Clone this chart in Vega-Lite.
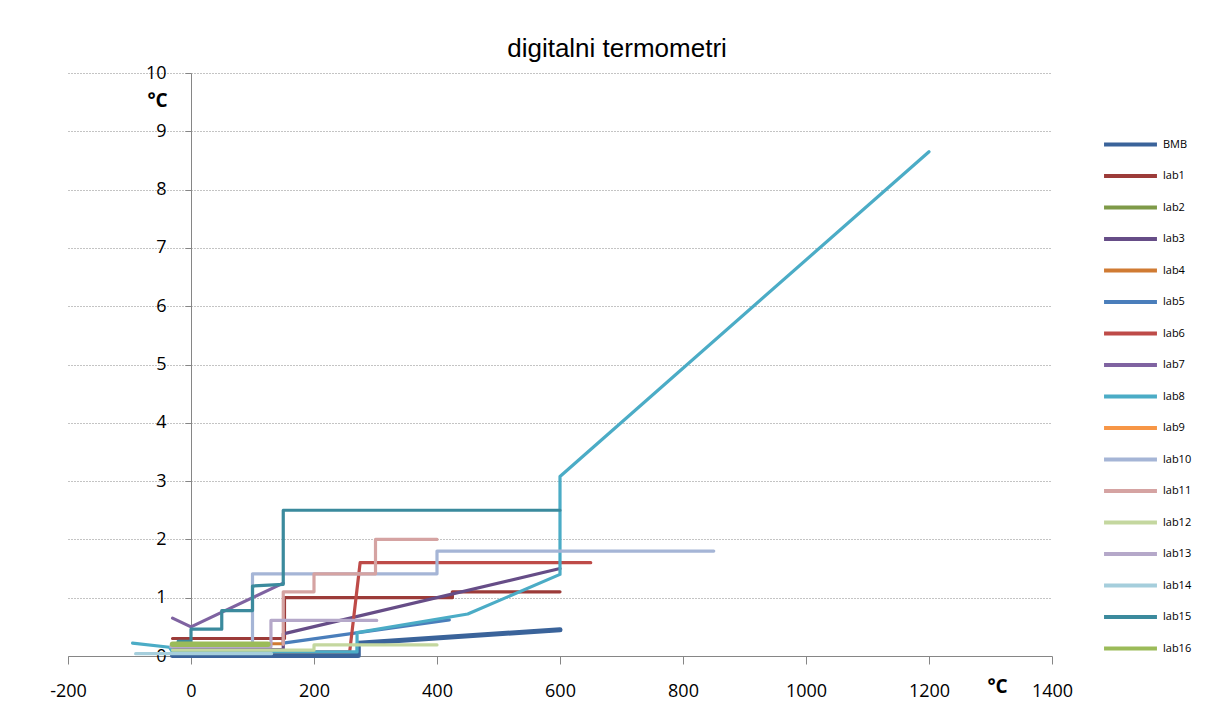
{
  "$schema": "https://vega.github.io/schema/vega-lite/v6.json",
  "autosize": "none",
  "padding": {"left": 68, "top": 73, "right": 156, "bottom": 52},
  "width": 984,
  "height": 583,
  "background": "white",
  "title": {
    "text": "digitalni termometri",
    "font": "Liberation Sans",
    "fontSize": 26,
    "fontWeight": "normal",
    "color": "#000000",
    "anchor": "middle",
    "baseline": "alphabetic",
    "offset": 16,
    "dx": 57,
    "dy": 35
  },
  "config": {
    "view": {"stroke": null},
    "axis": {"labelColor": "#000000", "titleColor": "#000000"}
  },
  "data": {
    "values": [
      {"s": "BMB", "x": -30, "y": 0.01, "i": 0},
      {"s": "BMB", "x": 272, "y": 0.01, "i": 1},
      {"s": "BMB", "x": 272, "y": 0.22, "i": 2},
      {"s": "BMB", "x": 600, "y": 0.45, "i": 3},
      {"s": "lab1", "x": -30, "y": 0.3, "i": 0},
      {"s": "lab1", "x": 152, "y": 0.3, "i": 1},
      {"s": "lab1", "x": 152, "y": 1.0, "i": 2},
      {"s": "lab1", "x": 425, "y": 1.0, "i": 3},
      {"s": "lab1", "x": 425, "y": 1.1, "i": 4},
      {"s": "lab1", "x": 600, "y": 1.1, "i": 5},
      {"s": "lab2", "x": -30, "y": 0.2, "i": 0},
      {"s": "lab2", "x": 120, "y": 0.2, "i": 1},
      {"s": "lab3", "x": -30, "y": 0.11, "i": 0},
      {"s": "lab3", "x": 150, "y": 0.11, "i": 1},
      {"s": "lab3", "x": 150, "y": 0.38, "i": 2},
      {"s": "lab3", "x": 600, "y": 1.5, "i": 3},
      {"s": "lab4", "x": -30, "y": 0.21, "i": 0},
      {"s": "lab4", "x": 150, "y": 0.21, "i": 1},
      {"s": "lab5", "x": 150, "y": 0.22, "i": 0},
      {"s": "lab5", "x": 420, "y": 0.62, "i": 1},
      {"s": "lab6", "x": -30, "y": 0.07, "i": 0},
      {"s": "lab6", "x": 258, "y": 0.07, "i": 1},
      {"s": "lab6", "x": 275, "y": 1.6, "i": 2},
      {"s": "lab6", "x": 650, "y": 1.6, "i": 3},
      {"s": "lab7", "x": -30, "y": 0.65, "i": 0},
      {"s": "lab7", "x": 0, "y": 0.5, "i": 1},
      {"s": "lab7", "x": 150, "y": 1.25, "i": 2},
      {"s": "lab8", "x": -95, "y": 0.22, "i": 0},
      {"s": "lab8", "x": -35, "y": 0.15, "i": 1},
      {"s": "lab8", "x": -30, "y": 0.07, "i": 2},
      {"s": "lab8", "x": 270, "y": 0.07, "i": 3},
      {"s": "lab8", "x": 270, "y": 0.4, "i": 4},
      {"s": "lab8", "x": 450, "y": 0.72, "i": 5},
      {"s": "lab8", "x": 600, "y": 1.4, "i": 6},
      {"s": "lab8", "x": 600, "y": 3.08, "i": 7},
      {"s": "lab8", "x": 1200, "y": 8.65, "i": 8},
      {"s": "lab9", "x": -30, "y": 0.2, "i": 0},
      {"s": "lab9", "x": 110, "y": 0.2, "i": 1},
      {"s": "lab10", "x": 100, "y": 0.22, "i": 0},
      {"s": "lab10", "x": 100, "y": 1.41, "i": 1},
      {"s": "lab10", "x": 400, "y": 1.41, "i": 2},
      {"s": "lab10", "x": 400, "y": 1.8, "i": 3},
      {"s": "lab10", "x": 850, "y": 1.8, "i": 4},
      {"s": "lab11", "x": 150, "y": 0.2, "i": 0},
      {"s": "lab11", "x": 150, "y": 1.1, "i": 1},
      {"s": "lab11", "x": 200, "y": 1.1, "i": 2},
      {"s": "lab11", "x": 200, "y": 1.41, "i": 3},
      {"s": "lab11", "x": 300, "y": 1.41, "i": 4},
      {"s": "lab11", "x": 300, "y": 2.0, "i": 5},
      {"s": "lab11", "x": 400, "y": 2.0, "i": 6},
      {"s": "lab12", "x": -30, "y": 0.1, "i": 0},
      {"s": "lab12", "x": 200, "y": 0.1, "i": 1},
      {"s": "lab12", "x": 200, "y": 0.19, "i": 2},
      {"s": "lab12", "x": 400, "y": 0.19, "i": 3},
      {"s": "lab13", "x": -33, "y": 0.16, "i": 0},
      {"s": "lab13", "x": 130, "y": 0.16, "i": 1},
      {"s": "lab13", "x": 130, "y": 0.61, "i": 2},
      {"s": "lab13", "x": 302, "y": 0.61, "i": 3},
      {"s": "lab14", "x": -90, "y": 0.04, "i": 0},
      {"s": "lab14", "x": 131, "y": 0.04, "i": 1},
      {"s": "lab15", "x": -21, "y": 0.25, "i": 0},
      {"s": "lab15", "x": 0, "y": 0.25, "i": 1},
      {"s": "lab15", "x": 0, "y": 0.46, "i": 2},
      {"s": "lab15", "x": 50, "y": 0.46, "i": 3},
      {"s": "lab15", "x": 50, "y": 0.78, "i": 4},
      {"s": "lab15", "x": 100, "y": 0.78, "i": 5},
      {"s": "lab15", "x": 100, "y": 1.2, "i": 6},
      {"s": "lab15", "x": 150, "y": 1.23, "i": 7},
      {"s": "lab15", "x": 150, "y": 2.5, "i": 8},
      {"s": "lab15", "x": 600, "y": 2.5, "i": 9},
      {"s": "lab16", "x": -30, "y": 0.2, "i": 0},
      {"s": "lab16", "x": 125, "y": 0.2, "i": 1}
    ]
  },
  "mark": {"type": "line", "strokeCap": "round", "strokeJoin": "round"},
  "encoding": {
    "x": {
      "field": "x",
      "type": "quantitative",
      "scale": {"domain": [-200, 1400], "nice": false, "zero": false},
      "axis": {
        "values": [-200, 0, 200, 400, 600, 800, 1000, 1200, 1400],
        "labelExpr": "'' + datum.value",
        "labelFlush": false,
        "labelOverlap": false,
        "grid": false,
        "domainColor": "#868686",
        "tickColor": "#868686",
        "tickSize": 8,
        "labelFont": "Open Sans",
        "labelFontSize": 18,
        "labelPadding": 18,
        "title": "°C",
        "titleFont": "Open Sans",
        "titleFontSize": 19,
        "titleFontWeight": "bold",
        "titleX": 929,
        "titleY": 30,
        "titleAlign": "center",
        "titleBaseline": "middle"
      }
    },
    "y": {
      "field": "y",
      "type": "quantitative",
      "scale": {"domain": [0, 10], "nice": false},
      "axis": {
        "values": [0, 1, 2, 3, 4, 5, 6, 7, 8, 9, 10],
        "offset": -123,
        "grid": true,
        "gridColor": "#888888",
        "gridDash": [1, 2],
        "gridWidth": 1,
        "domainColor": "#868686",
        "tickColor": "#868686",
        "tickSize": 6,
        "labelFont": "Open Sans",
        "labelFontSize": 18,
        "labelPadding": 19,
        "title": "°C",
        "titleFont": "Open Sans",
        "titleFontSize": 19,
        "titleFontWeight": "bold",
        "titleAngle": 0,
        "titleX": -34,
        "titleY": 27,
        "titleAlign": "center",
        "titleBaseline": "middle"
      }
    },
    "color": {
      "field": "s",
      "type": "nominal",
      "scale": {
        "domain": ["BMB", "lab1", "lab2", "lab3", "lab4", "lab5", "lab6", "lab7", "lab8", "lab9", "lab10", "lab11", "lab12", "lab13", "lab14", "lab15", "lab16"],
        "range": ["#3A639A", "#9C3B39", "#7E9A48", "#664D87", "#D07B33", "#4A7EBB", "#BE4B48", "#7F63A1", "#4BACC6", "#F79646", "#A5B5D6", "#D5A3A2", "#C4D79F", "#B5A8C9", "#A5CEDC", "#3B8A9D", "#9BBB59"]
      },
      "legend": {
        "orient": "none",
        "legendX": 1055,
        "legendY": 64,
        "title": null,
        "padding": 0,
        "symbolType": "M-5,0H5",
        "symbolSize": 112,
        "symbolStrokeWidth": 4,
        "labelFont": "Open Sans",
        "labelFontSize": 11,
        "labelColor": "#000000",
        "labelOffset": 25,
        "rowPadding": 14.5
      }
    },
    "order": {"field": "i", "type": "quantitative"},
    "strokeWidth": {
      "condition": [
        {"test": "datum.s === 'BMB'", "value": 5},
        {"test": "datum.s === 'lab16'", "value": 5.5}
      ],
      "value": 3.2
    }
  }
}
